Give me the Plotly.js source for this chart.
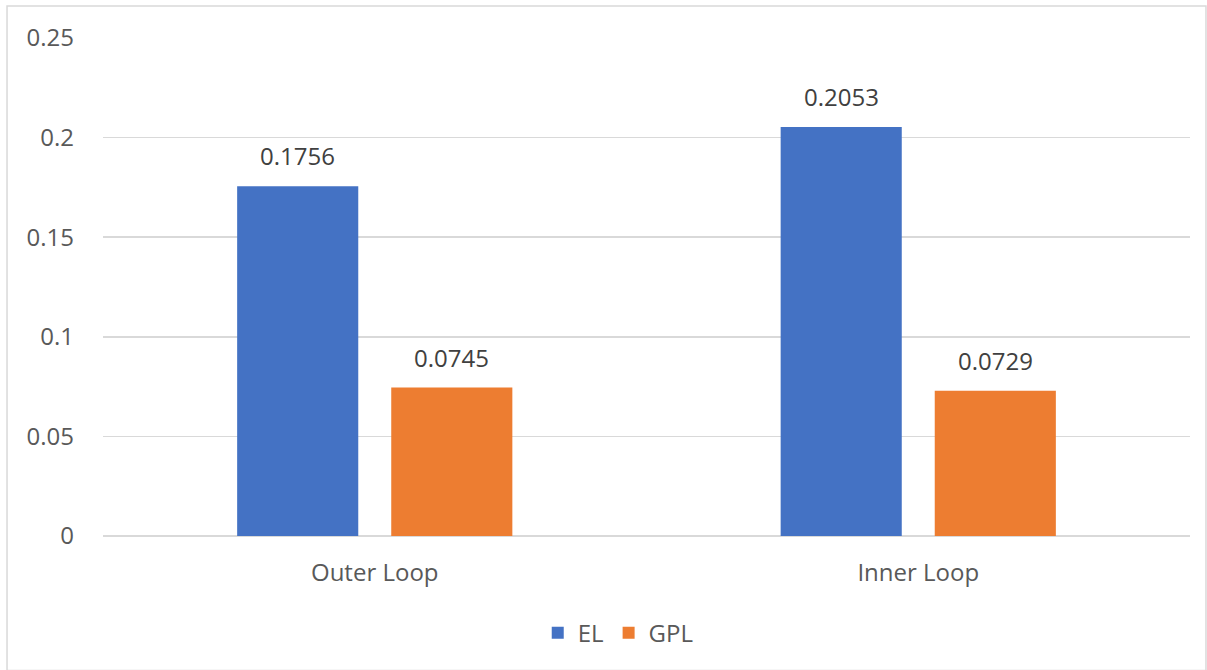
<!DOCTYPE html>
<html><head><meta charset="utf-8">
<script src="https://cdn.plot.ly/plotly-3.0.1.min.js"></script>
<style>html,body{margin:0;padding:0;background:#fff}#chart{width:1207px;height:670px}</style>
</head><body><div id="chart"></div>
<script>
const categories = ["Outer Loop", "Inner Loop"];
const elValues = [0.1756, 0.2053];
const gplValues = [0.0745, 0.0729];
const tickVals = [0, 0.05, 0.1, 0.15, 0.2, 0.25];
const tickText = ["0", "0.05", "0.1", "0.15", "0.2", "0.25"];

const font = "'Open Sans', 'Liberation Sans', sans-serif";
const series = [
  {name:"EL", values:elValues, color:"#4472C4", shift:-77},
  {name:"GPL", values:gplValues, color:"#ED7D31", shift:77}
];
const traces = series.map(s => ({type:"bar", name:s.name, x:categories, y:s.values,
  marker:{color:s.color}, hoverinfo:"none"}));
const annotations = [];
series.forEach(s => s.values.forEach((v, j) => annotations.push({
  x:categories[j], y:v, xref:"x", yref:"y", text:String(v), showarrow:false,
  xshift:s.shift, yshift:12, yanchor:"bottom", xanchor:"center",
  font:{size:24, color:"#404040", family:font}
})));
const layout = {
  width:1207, height:670,
  margin:{l:103, r:17, t:38, b:134},
  paper_bgcolor:"#fff", plot_bgcolor:"#fff",
  font:{family:font, color:"#595959", size:24},
  barmode:"group", bargap:0.433, bargroupgap:0.214,
  xaxis:{showgrid:false, zeroline:false, showline:false, ticks:"",
         tickfont:{size:24, color:"#595959"}, ticklabelstandoff:20},
  yaxis:{range:[0,0.25], tickvals:tickVals, ticktext:tickText, showgrid:true,
         gridcolor:"#d9d9d9", gridwidth:1.5, zeroline:true, zerolinecolor:"#d9d9d9", zerolinewidth:1.5,
         showline:false, ticks:"", tickfont:{size:24, color:"#595959"}, ticklabelstandoff:28},
  showlegend:true,
  legend:{orientation:"h", x:0.474, xanchor:"center", y:-0.195, yanchor:"middle",
          font:{size:24, color:"#595959"}, itemwidth:30},
  annotations:annotations,
  shapes:[{type:"rect", xref:"paper", yref:"paper", x0:-0.0883, x1:1.0147, y0:-0.27, y1:1.0643,
           line:{color:"#d9d9d9", width:1.5}, fillcolor:"rgba(0,0,0,0)", layer:"below"}]
};
Plotly.newPlot("chart", traces, layout, {displayModeBar:false, staticPlot:true});
</script></body></html>
